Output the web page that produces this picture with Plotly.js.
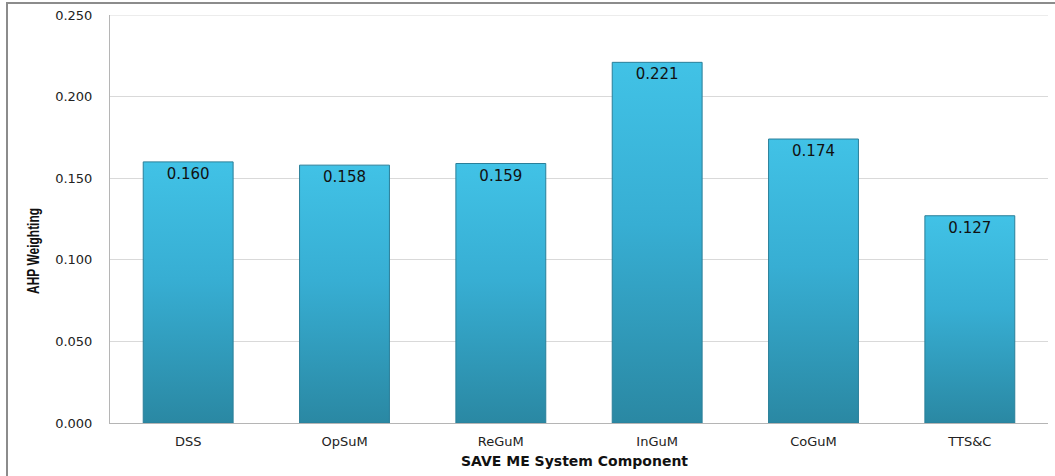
<!DOCTYPE html>
<html>
<head>
<meta charset="utf-8">
<script src="https://cdn.plot.ly/plotly-3.0.1.min.js"></script>
<style>
  html, body { margin: 0; padding: 0; background: #fff; }
  #chart { width: 1055px; height: 476px; }
</style>
</head>
<body>
<div id="chart"></div>
<script>
// AHP weighting for each SAVE ME system component
const components = ['DSS', 'OpSuM', 'ReGuM', 'InGuM', 'CoGuM', 'TTS&C'];
const weights = [0.160, 0.158, 0.159, 0.221, 0.174, 0.127];
const yTicks = [0, 0.05, 0.10, 0.15, 0.20, 0.25];
const yTitle = 'AHP Weighting';
const xTitle = 'SAVE ME System Component';

const sans = 'DejaVu Sans, Verdana, sans-serif';

const trace = {
  type: 'bar',
  x: components,
  y: weights,
  text: weights.map(v => v.toFixed(3)),
  textposition: 'inside',
  insidetextanchor: 'end',
  textangle: 0,
  textfont: { family: sans, size: 15, color: '#111' },
  constraintext: 'none',
  marker: { color: '#35a9cc', line: { color: '#2a7f99', width: 1 } },
  hoverinfo: 'x+y',
  cliponaxis: false
};

const layout = {
  width: 1055,
  height: 476,
  margin: { l: 110, r: 7, t: 15, b: 53 },
  paper_bgcolor: '#fff',
  plot_bgcolor: '#fff',
  showlegend: false,
  bargap: 0.425,
  xaxis: {
    type: 'category',
    showgrid: false,
    showline: true,
    linecolor: '#b5b5b5',
    linewidth: 1,
    ticks: '',
    tickfont: { family: sans, size: 13, color: '#222' },
    ticklabelstandoff: 6
  },
  yaxis: {
    range: [0, 0.25],
    tickvals: yTicks,
    tickformat: '.3f',
    showgrid: true,
    gridcolor: '#d9d9d9',
    gridwidth: 1,
    showline: true,
    linecolor: '#b5b5b5',
    linewidth: 1,
    zeroline: false,
    ticks: '',
    ticklabelstandoff: 14,
    tickfont: { family: sans, size: 13, color: '#222' }
  },
  annotations: [
    {
      text: '<b>' + yTitle + '</b>',
      xref: 'paper', yref: 'paper',
      x: (34 - 110) / 938, y: (423 - 251) / 408,
      xanchor: 'center', yanchor: 'middle',
      textangle: -90, showarrow: false,
      font: { family: 'Liberation Sans, Arial, sans-serif', size: 17, color: '#111' }
    },
    {
      text: '<b>' + xTitle + '</b>',
      xref: 'paper', yref: 'paper',
      x: (574 - 110) / 938, y: (423 - 461) / 408,
      xanchor: 'center', yanchor: 'middle',
      showarrow: false,
      font: { family: sans, size: 14, color: '#111' }
    }
  ],
  shapes: [
    // gridline along the top of the value range
    {
      type: 'line', xref: 'paper', yref: 'y',
      x0: 0, x1: 1, y0: yTicks[yTicks.length - 1], y1: yTicks[yTicks.length - 1],
      line: { color: '#d9d9d9', width: 1 }, layer: 'below'
    },
    // outer chart frame (left and top edges)
    {
      type: 'path', xref: 'paper', yref: 'paper',
      path: 'M ' + ((7 - 110) / 938) + ' ' + ((423 - 490) / 408) +
            ' L ' + ((7 - 110) / 938) + ' ' + ((423 - 3) / 408) +
            ' L ' + ((1060 - 110) / 938) + ' ' + ((423 - 3) / 408),
      line: { color: '#8c8c8c', width: 2 }
    }
  ]
};

Plotly.newPlot('chart', [trace], layout, { staticPlot: true, displayModeBar: false }).then(gd => {
  // vertical shading on the bars: light cyan on top, deeper teal toward the base
  const svg = gd.querySelector('svg.main-svg');
  const ns = 'http://www.w3.org/2000/svg';
  let defs = svg.querySelector('defs');
  if (!defs) { defs = document.createElementNS(ns, 'defs'); svg.insertBefore(defs, svg.firstChild); }
  const grad = document.createElementNS(ns, 'linearGradient');
  grad.setAttribute('id', 'barShade');
  grad.setAttribute('x1', '0'); grad.setAttribute('y1', '0');
  grad.setAttribute('x2', '0'); grad.setAttribute('y2', '1');
  [['0', '#41c2e6'], ['0.45', '#37aed3'], ['1', '#2a88a3']].forEach(([o, c]) => {
    const s = document.createElementNS(ns, 'stop');
    s.setAttribute('offset', o); s.setAttribute('stop-color', c);
    grad.appendChild(s);
  });
  defs.appendChild(grad);
  gd.querySelectorAll('.bars .point path').forEach(p => { p.style.fill = 'url(#barShade)'; });

  // narrow, condensed look for the vertical axis title
  gd.querySelectorAll('.annotation-text').forEach(t => {
    if (t.textContent === yTitle) {
      t.setAttribute('textLength', '86');
      t.setAttribute('lengthAdjust', 'spacingAndGlyphs');
    }
  });
});
</script>
</body>
</html>
